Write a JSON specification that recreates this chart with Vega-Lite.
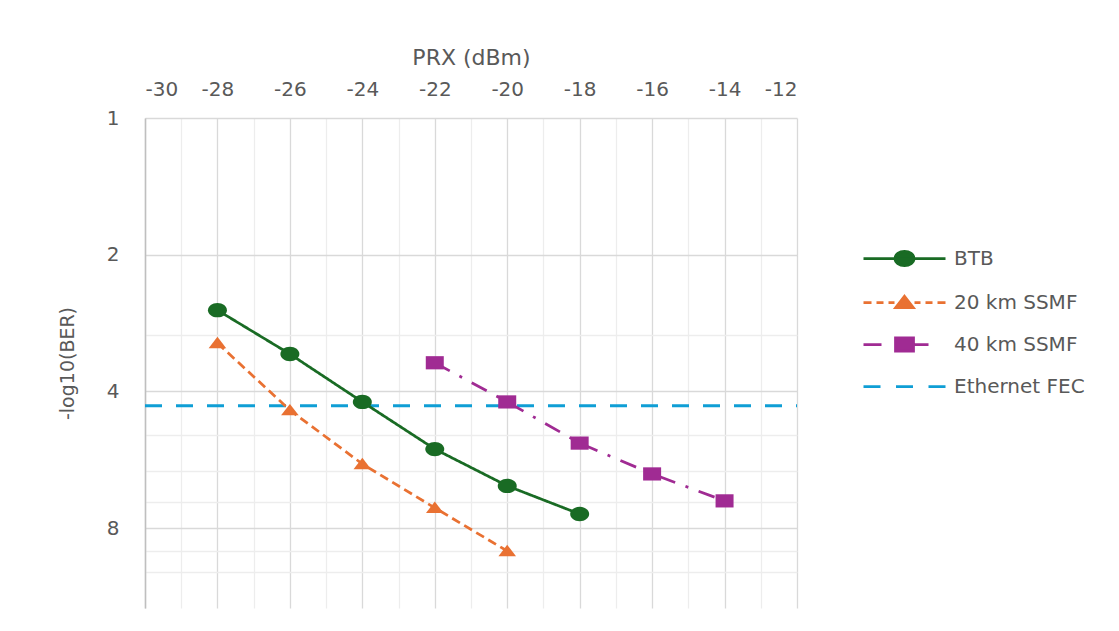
{
  "$schema": "https://vega.github.io/schema/vega-lite/v6.json",
  "width": 652,
  "height": 490,
  "autosize": {"type": "none"},
  "padding": {"left": 145, "top": 118, "right": 322, "bottom": 23},
  "background": "white",
  "config": {
    "view": {"stroke": null},
    "font": "DejaVu Sans",
    "axis": {"labelFont": "DejaVu Sans", "titleFont": "DejaVu Sans", "labelColor": "#595959", "titleColor": "#595959", "titleFontWeight": "normal"},
    "legend": {"labelFont": "DejaVu Sans", "labelColor": "#595959", "labelFontSize": 20}
  },
  "data": {
    "values": [
      {"series": "BTB", "prx": -28, "ber": 2.65},
      {"series": "BTB", "prx": -26, "ber": 3.31},
      {"series": "BTB", "prx": -24, "ber": 4.22},
      {"series": "BTB", "prx": -22, "ber": 5.36},
      {"series": "BTB", "prx": -20, "ber": 6.46},
      {"series": "BTB", "prx": -18, "ber": 7.45},
      {"series": "20 km SSMF", "prx": -28, "ber": 3.13},
      {"series": "20 km SSMF", "prx": -26, "ber": 4.4},
      {"series": "20 km SSMF", "prx": -24, "ber": 5.78},
      {"series": "20 km SSMF", "prx": -22, "ber": 7.22},
      {"series": "20 km SSMF", "prx": -20, "ber": 8.99},
      {"series": "40 km SSMF", "prx": -22, "ber": 3.46},
      {"series": "40 km SSMF", "prx": -20, "ber": 4.22},
      {"series": "40 km SSMF", "prx": -18, "ber": 5.2},
      {"series": "40 km SSMF", "prx": -16, "ber": 6.08},
      {"series": "40 km SSMF", "prx": -14, "ber": 6.97},
      {"series": "Ethernet FEC", "prx": -30, "ber": 4.3},
      {"series": "Ethernet FEC", "prx": -12, "ber": 4.3}
    ]
  },
  "encoding": {
    "x": {
      "field": "prx", "type": "quantitative", "title": "PRX (dBm)",
      "scale": {"domain": [-30, -12], "nice": false, "zero": false},
      "axis": {
        "orient": "top",
        "values": [-30, -29, -28, -27, -26, -25, -24, -23, -22, -21, -20, -19, -18, -17, -16, -15, -14, -13, -12],
        "labelExpr": "datum.value % 2 === 0 ? '' + datum.value : ''",
        "ticks": false, "domain": false, "grid": true,
        "gridColor": {"condition": {"test": "datum.value % 2 === 0", "value": "#d9d9d9"}, "value": "#ededed"},
        "gridWidth": 1.3,
        "labelFontSize": 20, "labelPadding": 23, "labelBaseline": "alphabetic",
        "titleFontSize": 22, "titleX": 326, "titleY": -54, "titleBaseline": "alphabetic", "titleAlign": "center"
      }
    },
    "y": {
      "field": "ber", "type": "quantitative", "title": "-log10(BER)",
      "scale": {"type": "log", "base": 2, "domain": [1, 12], "reverse": true, "nice": false},
      "axis": {
        "values": [1, 2, 3, 4, 5, 6, 7, 8, 9, 10],
        "labelExpr": "indexof([1, 2, 4, 8], datum.value) >= 0 ? '' + datum.value : ''",
        "ticks": false, "domain": true, "domainColor": "#bfbfbf", "domainWidth": 1.5, "grid": true,
        "gridColor": {"condition": {"test": "indexof([1, 2, 4, 8], datum.value) >= 0", "value": "#d9d9d9"}, "value": "#ededed"},
        "gridWidth": 1.3,
        "labelFontSize": 20, "labelPadding": 26, "labelAlign": "right", "labelBaseline": "middle",
        "titleFontSize": 19, "titleX": -78, "titleY": 245, "titleAngle": -90, "titleAlign": "center", "titleBaseline": "middle"
      }
    },
    "color": {
      "field": "series", "type": "nominal",
      "scale": {"domain": ["BTB", "20 km SSMF", "40 km SSMF", "Ethernet FEC"], "range": ["#196B24", "#E97132", "#A02B93", "#0F9ED5"]},
      "legend": {
        "title": null, "orient": "none", "legendX": 748, "legendY": 129,
        "symbolSize": 400, "symbolStrokeWidth": 2.75, "labelOffset": 38, "rowPadding": 18, "padding": 0,
        "labelFontSize": 20, "labelLimit": 300, "symbolOpacity": 1,
        "encode": {"symbols": {"update": {"fill": {"scale": "color", "field": "value"}, "stroke": {"scale": "color", "field": "value"}, "strokeWidth": {"value": 2.75}, "opacity": {"value": 1}}}}
      }
    }
  },
  "layer": [
    {
      "transform": [{"filter": "datum.series === 'Ethernet FEC'"}],
      "mark": {"type": "line", "strokeWidth": 3, "strokeDash": [17, 14]}
    },
    {
      "transform": [{"filter": "datum.series !== 'Ethernet FEC'"}],
      "mark": {"type": "line", "strokeWidth": 2.75},
      "encoding": {
        "strokeDash": {"field": "series", "type": "nominal", "scale": {"domain": ["BTB", "20 km SSMF", "40 km SSMF"], "range": [[1, 0], [9, 5], [17, 11, 3, 11]]}, "legend": null}
      }
    },
    {
      "transform": [{"filter": "datum.series === 'BTB'"}],
      "mark": {"type": "point", "filled": true, "opacity": 1, "size": 400, "shape": "M0.95,0A0.95,0.72 0 1,1 -0.95,0A0.95,0.72 0 1,1 0.95,0Z"}
    },
    {
      "transform": [{"filter": "datum.series === '20 km SSMF'"}],
      "mark": {"type": "point", "filled": true, "opacity": 1, "size": 400, "shape": "M0,-0.62L0.88,0.52L-0.88,0.52Z"}
    },
    {
      "transform": [{"filter": "datum.series === '40 km SSMF'"}],
      "mark": {"type": "point", "filled": true, "opacity": 1, "size": 400, "shape": "M-0.9,-0.66H0.9V0.66H-0.9Z"}
    },
    {
      "mark": {"type": "point", "filled": true, "opacity": 0, "size": 400},
      "encoding": {
        "shape": {
          "field": "series", "type": "nominal",
          "scale": {
            "domain": ["BTB", "20 km SSMF", "40 km SSMF", "Ethernet FEC"],
            "range": [
              "M-4.1,0H4.1M0.95,0A0.95,0.72 0 1,1 -0.95,0A0.95,0.72 0 1,1 0.95,0Z",
              "M-4.1,0H-3.3M-2.8,0H-2.1M-1.6,0H-1.0M1.0,0H1.6M2.1,0H2.8M3.3,0H4.1M0,-0.62L0.88,0.52L-0.88,0.52Z",
              "M-4.1,0H-2.3M0.8,0H2.4M-0.9,-0.66H0.9V0.66H-0.9Z",
              "M-4.1,0H-2.4M-0.85,0H0.85M2.4,0H4.1"
            ]
          },
          "legend": {"title": null}
        }
      }
    }
  ]
}
